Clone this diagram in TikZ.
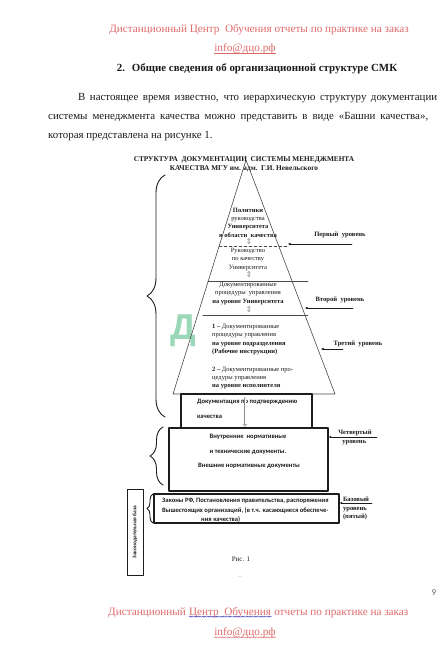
\documentclass[tikz,border=0pt]{standalone}
\usepackage{fontspec}
\setmainfont{Liberation Serif}
\newfontfamily\boxfont{Carlito}
\newfontfamily\arrfont{DejaVu Sans}
\newfontfamily\markfont{Liberation Sans}
\usetikzlibrary{arrows.meta,decorations.pathreplacing,decorations.pathmorphing}
\definecolor{dcoRed}{HTML}{E06A6A}
\definecolor{dcoBlue}{HTML}{3535C0}
\definecolor{dcoGreen}{HTML}{9AD8B8}
\definecolor{twInk}{HTML}{1C1C1C}
\definecolor{twGrey}{HTML}{8C8C8C}
\tikzset{
  tw diagram/.style={text=twInk, line cap=round, line join=round},
  ad text/.style={text=dcoRed, inner sep=0pt, font=\fontsize{11.2}{12}\selectfont},
  page text/.style={anchor=west, inner sep=0pt, font=\fontsize{10.9}{12}\selectfont},
  page head/.style={inner sep=0pt, font=\bfseries\fontsize{10.9}{12}\selectfont},
  fig title/.style={inner sep=0pt, align=center, font=\bfseries\fontsize{7.3}{9.5}\selectfont},
  tower text/.style={inner sep=0pt, align=center, font=\fontsize{6.5}{8.4}\selectfont},
  tower left/.style={tower text, align=left, anchor=west},
  tower line/.style={draw=twInk!80, line width=0.6pt},
  flow mark/.style={inner sep=0pt, text=twGrey, font=\arrfont\fontsize{8}{8}\selectfont},
  level label/.style={inner sep=0pt, align=left, font=\bfseries\fontsize{6.6}{8.4}\selectfont},
  level arrow/.style={-{Latex[length=2.6pt,width=2.6pt]}, draw=twInk, line width=0.5pt},
  tier box/.style={draw=twInk, line width=1.1pt, inner sep=0pt},
  box text/.style={inner sep=0pt, font=\boxfont\bfseries\fontsize{6.6}{7}\selectfont},
  hollow arrow/.style={draw=twGrey, double=white, double distance=0.9pt, line width=0.4pt,
    -{Triangle[open, length=3pt, width=4pt]}},
  tower brace/.style={decorate, draw=twInk, line width=0.9pt},
  wavy line/.style={decorate, decoration={snake, amplitude=0.6pt, segment length=2.6pt}, line width=0.45pt}
}
\begin{document}
\begin{tikzpicture}[x=1pt,y=-1pt,tw diagram]
\useasboundingbox[fill=white] (0,0) rectangle (444,665);
\node[ad text] (adTop) at (259,30) {Дистанционный Центр\ \ Обучения отчеты по практике на заказ};
\node[ad text] (mailTop) at (245,49) {info@дцо.рф};
\draw[dcoRed, line width=0.5pt] ([yshift=-1.2pt]mailTop.base west) -- ([yshift=-1.2pt]mailTop.base east);
\node[page head] (secHead) at (257,69) {2.\hspace{7pt}Общие сведения об организационной структуре СМК};
\node[page text] (par1) at (78,98) {\makebox[359pt][s]{В настоящее время известно, что иерархическую структуру документации}};
\node[page text] (par2) at (48,117) {\makebox[380pt][s]{системы менеджмента качества можно представить в виде «Башни качества»,}};
\node[page text] (par3) at (48,136) {которая представлена на рисунке 1.};
\node[fig title] (figTitle) at (244,164) {СТРУКТУРА\ \ ДОКУМЕНТАЦИИ\ \ СИСТЕМЫ МЕНЕДЖМЕНТА\\КАЧЕСТВА МГУ им. адм.\ \ Г.И. Невельского};
\node[text=dcoGreen, inner sep=0pt, font=\markfont\bfseries\fontsize{36}{36}\selectfont] (wmark) at (183,331) {Д};
\coordinate (apex) at (246,160);
\coordinate (baseL) at (173,394);
\coordinate (baseR) at (335,394);
\draw[tower line] (baseL) -- (apex) -- (baseR) -- cycle;
\draw[tower line, densely dashed, line width=0.4pt] (219,246) -- (289,246);
\draw[tower line] (208,281) -- (308,281);
\draw[tower line] (203,315) -- (308,315);
\node[tower text] (policyText) at (248,222.5) {\textbf{Политики}\\руководства\\\textbf{Университета}\\\textbf{в области\ \ качества}};
\node[tower text] (manualText) at (248,259.5) {Руководство\\по качеству\\Университета};
\node[tower text] (uniProc) at (248,293.5) {Документированные\\процедуры\ \ управления\\\textbf{на уровне Университета}};
\node[tower left] (deptProc) at (212,339.5) {\textbf{1 –} Документированные\\процедуры управления\\\textbf{на уровне подразделения}\\\textbf{(Рабочие инструкции)}};
\node[tower left] (execProc) at (212,378) {\textbf{2 –} Документированные про-\\цедуры управления\\\textbf{на уровне исполнителя}};
\node[flow mark] (mark1) at (249,242) {⇕};
\node[flow mark] (mark2) at (249,275) {⇕};
\node[flow mark] (mark3) at (249,310) {⇕};
\node[level label] (lvl1) at (340,235) {Первый\ \ уровень};
\node[level label] (lvl2) at (340,300) {Второй\ \ уровень};
\node[level label] (lvl3) at (358,344) {Третий\ \ уровень};
\coordinate (lvl1tail) at (352,244);
\coordinate (lvl1tip) at (288,244);
\coordinate (lvl2tail) at (353,308);
\coordinate (lvl2tip) at (305,308);
\coordinate (lvl3tail) at (343,349);
\coordinate (lvl3tip) at (321,349);
\draw[level arrow] (lvl1tail) -- (lvl1tip);
\draw[level arrow] (lvl2tail) -- (lvl2tip);
\draw[level arrow] (lvl3tail) -- (lvl3tip);
\node[tier box, minimum width=131pt, minimum height=34pt] (proofBox) at (246.5,411) {};
\node[tier box, minimum width=159pt, minimum height=63pt] (normBox) at (248.5,459.5) {};
\node[tier box, minimum width=185pt, minimum height=29pt] (lawBox) at (246.5,508.5) {};
\node[tier box, line width=0.9pt, minimum width=16pt, minimum height=86pt] (legalBase) at (135,532) {};
\node[box text, rotate=90, font=\boxfont\bfseries\fontsize{5.4}{6}\selectfont] (legalText) at (legalBase) {Законодательная база};
\node[box text, anchor=west] (proofText1) at (197,402) {Документация по подтверждению};
\node[box text, anchor=west] (proofText2) at (197,417) {качества};
\coordinate (proofTop) at (245,398);
\draw[hollow arrow] (proofTop) -- (proofTop |- normBox.north);
\node[box text] (normText1) at (248,437) {Внутренние\ \ нормативные};
\node[box text] (normText2) at (248,452) {и технические документы.};
\node[box text] (normText3) at (249,466) {Внешние нормативные документы};
\node[box text, anchor=west] (lawText1) at (162,501) {Законы РФ, Постановления правительства, распоряжения};
\node[box text, anchor=west] (lawText2) at (162,511) {Вышестоящих организаций, (в т.ч. касающиеся обеспече-};
\node[box text, anchor=west] (lawText3) at (201,520) {ния качества)};
\node[level label] (lvl4) at (355,437.5) {Четвертый\\\hspace*{4pt}уровень};
\node[level label] (lvl5) at (356,508.5) {Базовый\\уровень\\(пятый)};
\coordinate (lvl4tail) at (377,437);
\coordinate (lvl5tail) at (372,503);
\draw[level arrow] (lvl4tail) -- (lvl4tail -| normBox.east);
\draw[level arrow] (lvl5tail) -- (lvl5tail -| lawBox.east);
\draw[tower brace, decoration={brace, amplitude=18pt}] (165,417) -- (165,175);
\draw[tower brace, decoration={brace, amplitude=13pt}] (163,485) -- (163,427);
\draw[tower brace, decoration={brace, amplitude=6pt}] (153,523) -- (153,494);
\node[inner sep=0pt, font=\fontsize{7}{8}\selectfont] (figCap) at (241,559) {Рис. 1};
\node[inner sep=0pt, text=twGrey, font=\fontsize{5}{6}\selectfont] (dashMark) at (240,578) {{-}{-}};
\node[inner sep=0pt, text=twGrey!70!black, font=\boxfont\fontsize{9}{10}\selectfont] (pageNo) at (434,593) {9};
\node[ad text, anchor=base west] (adBot1) at (108,615) {Дистанционный};
\node[ad text, anchor=base west, xshift=2.8pt] (adBot2) at (adBot1.base east) {Центр\ \ Обучения};
\node[ad text, anchor=base west, xshift=2.8pt] (adBot3) at (adBot2.base east) {отчеты по практике на заказ};
\draw[wavy line, draw=dcoBlue] ([yshift=-1.6pt]adBot2.base west) -- ([yshift=-1.6pt]adBot2.base east);
\node[ad text] (mailBot) at (245,633) {info@дцо.рф};
\draw[wavy line, draw=dcoRed] ([yshift=-1.6pt]mailBot.base west) -- ([yshift=-1.6pt]mailBot.base east);
\end{tikzpicture}
\end{document}
